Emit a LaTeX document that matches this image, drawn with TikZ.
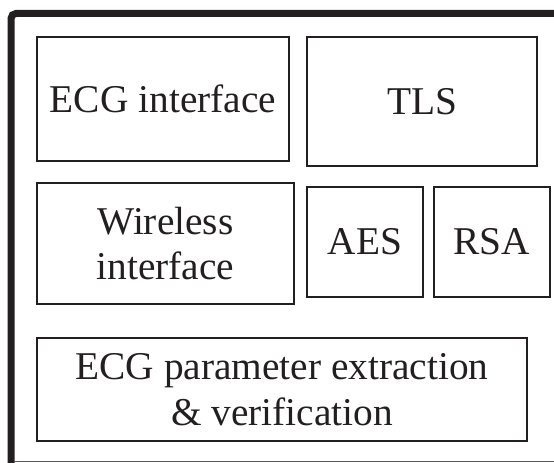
\documentclass[tikz,border=0pt]{standalone}
\usepackage{fontspec}
\setmainfont{Liberation Serif}
\usetikzlibrary{positioning}
\definecolor{inkline}{RGB}{35,31,32}

\begin{document}
\begin{tikzpicture}[x=1bp, y=-1bp,
    block/.style={rectangle, draw=inkline, line width=1.3bp, inner sep=0pt,
                  align=center, text=inkline,
                  font=\fontsize{39.5}{46}\selectfont},
    frame/.style={draw=inkline, line width=7bp, rounded corners=5bp},
]
\useasboundingbox (0,0) rectangle (554,463);

% --- outer frame ---
\coordinate (fbot) at (11,466);
\coordinate (fcorner) at (11,13.5);
\coordinate (fright) at (560,13.5);
\draw[frame] (fbot) -- (fcorner) -- (fright);
\coordinate (bl) at (14,461);
\coordinate (br) at (554,461);
\draw[black!65, line width=1bp] (bl) -- (br);

% --- blocks ---
\node[block, minimum width=252bp, minimum height=124bp] (ecg) at (163,99) {ECG interface};
\node[block, minimum width=230bp, minimum height=129bp] (tls) at (422,101.5) {TLS};
\node[block, minimum width=257bp, minimum height=121bp] (wireless) at (165.5,243.5) {Wireless\\interface};
\node[block, minimum width=116bp, minimum height=110bp] (aes) at (365,242) {AES};
\node[block, minimum width=116bp, minimum height=110bp] (rsa) at (492,242) {RSA};
\node[block, minimum width=490bp, minimum height=103bp] (param) at (282,389.5) {ECG parameter extraction\\\& verification};

\end{tikzpicture}
\end{document}
